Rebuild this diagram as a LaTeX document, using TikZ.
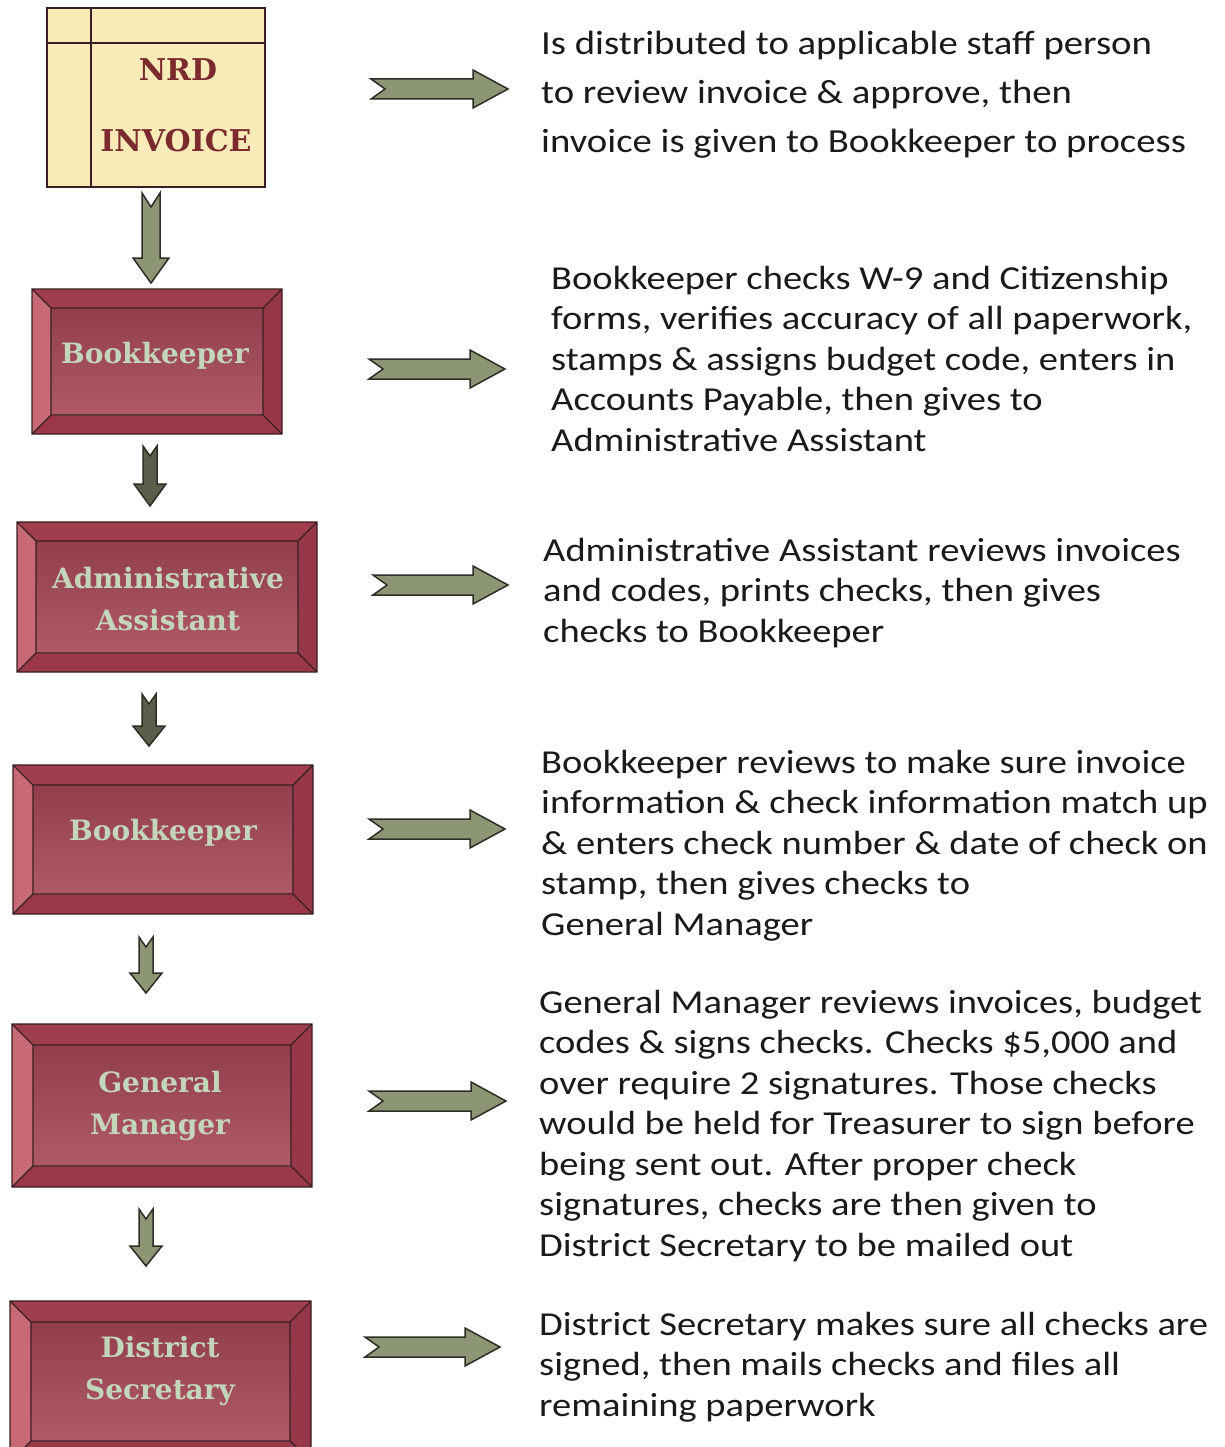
\documentclass[tikz,border=0pt]{standalone}
\usepackage{fontspec}
\setmainfont{Carlito}
\newfontfamily\descfont{Carlito}[FakeStretch=1.15]
\newfontfamily\slab{DejaVu Serif}
\usetikzlibrary{calc}
\definecolor{olive}{HTML}{8C9574}
\definecolor{olivedark}{HTML}{5A5E4A}
\definecolor{arrowline}{HTML}{2E2E26}
\definecolor{redtop}{HTML}{A03E4E}
\definecolor{redleft}{HTML}{C76A76}
\definecolor{redright}{HTML}{96384A}
\definecolor{redbottom}{HTML}{9A3848}
\definecolor{innertop}{HTML}{923E4C}
\definecolor{innermid}{HTML}{E0969C}
\definecolor{innerbot}{HTML}{B05A68}
\definecolor{labelgreen}{HTML}{C4D6BA}
\definecolor{invoicefill}{HTML}{F8EBB7}
\definecolor{invoicetext}{HTML}{7B2B2E}
\definecolor{textcol}{HTML}{1A1A1A}
\definecolor{edgecol}{HTML}{3A1E22}
\tikzset{
  bbox/.style={inner sep=0pt, outer sep=0pt, draw=none},
  edge/.style={draw=edgecol, line width=1.2pt},
  lbl/.style={inner sep=0pt, align=center, text=labelgreen, font=\slab\bfseries\fontsize{28}{42}\selectfont},
  invlbl/.style={inner sep=0pt, text=invoicetext, font=\slab\bfseries\fontsize{30}{30}\selectfont},
  desc/.style={anchor=base west, inner sep=0pt, align=left, text=textcol, font=\descfont\fontsize{33.5}{40.5}\selectfont},
  bigdesc/.style={anchor=base west, inner sep=0pt, align=left, text=textcol, font=\descfont\fontsize{33.7}{49}\selectfont},
  blockarrow/.style={fill=olive, draw=arrowline, line width=1.5pt, line join=miter},
  darkarrow/.style={fill=olivedark, draw=arrowline, line width=1.5pt, line join=miter}
}
% bevel faces around a named node: #1 name, #2 inset
\newcommand\bevelfaces[2]{%
  \coordinate (#1-A) at (#1.north west);
  \coordinate (#1-B) at (#1.north east);
  \coordinate (#1-C) at (#1.south east);
  \coordinate (#1-D) at (#1.south west);
  \coordinate (#1-a) at ($(#1-A)+(#2,#2)$);
  \coordinate (#1-b) at ($(#1-B)+(-#2,#2)$);
  \coordinate (#1-c) at ($(#1-C)+(-#2,-#2)$);
  \coordinate (#1-d) at ($(#1-D)+(#2,-#2)$);
  \fill[redtop] (#1-A) -- (#1-B) -- (#1-b) -- (#1-a) -- cycle;
  \fill[redright] (#1-B) -- (#1-C) -- (#1-c) -- (#1-b) -- cycle;
  \fill[redbottom] (#1-C) -- (#1-D) -- (#1-d) -- (#1-c) -- cycle;
  \fill[redleft] (#1-D) -- (#1-A) -- (#1-a) -- (#1-d) -- cycle;
  \shade[top color=innertop, middle color=innermid, bottom color=innerbot] (#1-a) rectangle (#1-c);
  \draw[edge] (#1-A) rectangle (#1-C) (#1-a) rectangle (#1-c)
    (#1-A) -- (#1-a) (#1-B) -- (#1-b) (#1-C) -- (#1-c) (#1-D) -- (#1-d);
}
% down arrow: x, ytop, ybottom, shaft half, head half, head length, notch, style
\newcommand\vdownarrow[8]{%
  \path[#8] (#1-#4,#2) -- (#1,#2+#7) -- (#1+#4,#2) -- (#1+#4,#3-#6) -- (#1+#5,#3-#6)
    -- (#1,#3) -- (#1-#5,#3-#6) -- (#1-#4,#3-#6) -- cycle;
}
% right arrow from named coordinate start (#1) to end (#2) (same y)
\newcommand\hrightarrow[2]{%
  \path[blockarrow] let \p1=(#1), \p2=(#2) in
    (\x1,\y1+10pt) -- (\x2-35pt,\y1+10pt) -- (\x2-35pt,\y1+19pt) -- (\x2,\y1)
    -- (\x2-35pt,\y1-19pt) -- (\x2-35pt,\y1-10pt) -- (\x1,\y1-10pt) -- (\x1+14pt,\y1) -- cycle;
}
\begin{document}
\begin{tikzpicture}[x=1pt,y=-1pt]
\clip (0,0) rectangle (1225,1447);
\fill[white] (0,0) rectangle (1225,1447);

% ---- NRD invoice
\node[bbox, fill=invoicefill, draw=edgecol, line width=1.5pt, minimum width=218pt, minimum height=179pt] (inv) at (156,97.5) {};
\draw[edge] (91,8) -- (91,187) (47,43) -- (265,43);
\node[invlbl] (invt1) at (178,70) {NRD};
\node[invlbl] (invt2) at (176,141) {INVOICE};

% ---- bevel boxes
\node[bbox, minimum width=250pt, minimum height=145pt] (bk1) at (157,361.5) {};
\bevelfaces{bk1}{19}
\node[lbl] (bk1t) at (155,356) {Bookkeeper};

\node[bbox, minimum width=300pt, minimum height=150pt] (aa) at (167,597) {};
\bevelfaces{aa}{19}
\node[lbl] (aat) at (168,599) {Administrative\\Assistant};

\node[bbox, minimum width=300pt, minimum height=149pt] (bk2) at (163,839.5) {};
\bevelfaces{bk2}{20}
\node[lbl] (bk2t) at (163,833) {Bookkeeper};

\node[bbox, minimum width=300pt, minimum height=163pt] (gm) at (162,1105.5) {};
\bevelfaces{gm}{21}
\node[lbl] (gmt) at (160,1106) {General\\Manager};

\node[bbox, minimum width=301pt, minimum height=161pt] (ds) at (160.5,1381.5) {};
\bevelfaces{ds}{21}
\node[lbl] (dst) at (160,1371) {District\\Secretary};

% ---- vertical arrows
\vdownarrow{151}{193}{283}{9}{18}{25}{14}{blockarrow}
\vdownarrow{150}{446}{506}{7}{16}{22}{10}{darkarrow}
\vdownarrow{149}{694}{746}{7}{16}{20}{10}{darkarrow}
\vdownarrow{146}{937}{993}{7}{16}{20}{10}{blockarrow}
\vdownarrow{146}{1209}{1266}{7}{16}{20}{10}{blockarrow}

% ---- right arrows
\coordinate (h1s) at (371,89);  \coordinate (h1e) at (508,89);
\coordinate (h2s) at (369,369); \coordinate (h2e) at (505,369);
\coordinate (h3s) at (373,585); \coordinate (h3e) at (508,585);
\coordinate (h4s) at (369,829); \coordinate (h4e) at (505,829);
\coordinate (h5s) at (369,1101); \coordinate (h5e) at (506,1101);
\coordinate (h6s) at (365,1347); \coordinate (h6e) at (500,1347);
\hrightarrow{h1s}{h1e}
\hrightarrow{h2s}{h2e}
\hrightarrow{h3s}{h3e}
\hrightarrow{h4s}{h4e}
\hrightarrow{h5s}{h5e}
\hrightarrow{h6s}{h6e}

% ---- descriptions (anchored at the baseline of the last line)
\node[bigdesc] (d1) at (541,153) {Is distributed to applicable staff person\\to review invoice \& approve, then\\invoice is given to Bookkeeper to process};
\node[desc] (d2) at (551,451) {Bookkeeper checks W-9 and Citizenship\\forms, verifies accuracy of all paperwork,\\stamps \& assigns budget code, enters in\\Accounts Payable, then gives to\\Administrative Assistant};
\node[desc] (d3) at (543,642) {Administrative Assistant reviews invoices\\and codes, prints checks, then gives\\checks to Bookkeeper};
\node[desc] (d4) at (541,935) {Bookkeeper reviews to make sure invoice\\information \& check information match up\\\& enters check number \& date of check on\\stamp, then gives checks to\\General Manager};
\node[desc] (d5) at (539,1256) {General Manager reviews invoices, budget\\codes \& signs checks. Checks \$5,000 and\\over require 2 signatures. Those checks\\would be held for Treasurer to sign before\\being sent out. After proper check\\signatures, checks are then given to\\District Secretary to be mailed out};
\node[desc] (d6) at (539,1416) {District Secretary makes sure all checks are\\signed, then mails checks and files all\\remaining paperwork};
\end{tikzpicture}
\end{document}
